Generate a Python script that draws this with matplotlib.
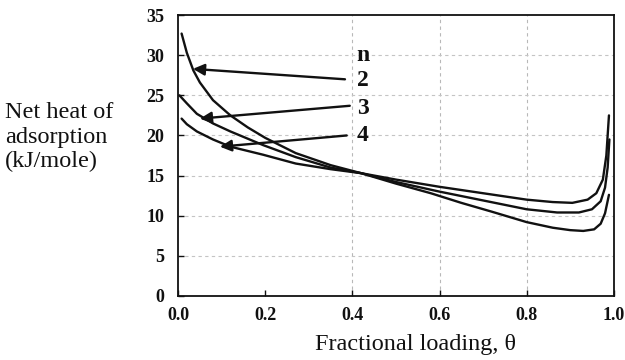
import numpy as np
import matplotlib.pyplot as plt

# Net heat of adsorption vs fractional loading, one curve per n
theta_n2 = [0.008, 0.02, 0.035, 0.05, 0.08, 0.12, 0.16, 0.20, 0.27, 0.35, 0.42,
            0.50, 0.58, 0.65, 0.72, 0.80, 0.86, 0.90, 0.93, 0.955, 0.97, 0.98, 0.989]
heat_n2 = [32.7, 30.3, 28.1, 26.6, 24.4, 22.5, 21.0, 19.7, 17.8, 16.3, 15.3,
           14.0, 12.8, 11.6, 10.5, 9.2, 8.5, 8.2, 8.1, 8.3, 9.0, 10.3, 12.6]

theta_n3 = [0.003, 0.02, 0.043, 0.08, 0.12, 0.195, 0.27, 0.35, 0.42,
            0.50, 0.60, 0.70, 0.80, 0.87, 0.92, 0.95, 0.97, 0.98, 0.986, 0.99]
heat_n3 = [25.0, 24.0, 22.7, 21.5, 20.5, 18.8, 17.3, 16.0, 15.3,
           14.2, 13.0, 11.9, 10.8, 10.4, 10.4, 10.8, 11.8, 13.5, 16.0, 19.5]

theta_n4 = [0.008, 0.02, 0.043, 0.08, 0.12, 0.195, 0.27, 0.35, 0.42,
            0.50, 0.60, 0.70, 0.80, 0.86, 0.905, 0.94, 0.96, 0.975, 0.983, 0.989]
heat_n4 = [22.1, 21.4, 20.5, 19.5, 18.6, 17.6, 16.5, 15.8, 15.3,
           14.5, 13.6, 12.8, 12.0, 11.7, 11.6, 12.0, 12.8, 14.5, 17.5, 22.5]

n_labels = ["2", "3", "4"]
x_ticks = [0.0, 0.2, 0.4, 0.6, 0.8, 1.0]
y_ticks = [0, 5, 10, 15, 20, 25, 30, 35]

serif = ["Liberation Serif", "DejaVu Serif"]
ink = "#111111"

fig = plt.figure(figsize=(6.25, 3.6), dpi=100)
ax = fig.add_axes([0.285, 0.178, 0.697, 0.780])

# faint dashed grid
for gx in [0.4, 0.6, 0.8]:
    ax.axvline(gx, color="#b8b8b8", lw=0.8, ls=(0, (3, 3)), zorder=0)
for gy in [5, 10, 15, 20, 25, 30]:
    ax.axhline(gy, color="#c4c4c4", lw=0.8, ls=(0, (3, 3)), zorder=0)

for th, q in [(theta_n2, heat_n2), (theta_n3, heat_n3), (theta_n4, heat_n4)]:
    ax.plot(th, q, color=ink, lw=1.7, solid_capstyle="round")

# labels and arrows pointing at each curve
ax.text(0.41, 30.0, "n", fontsize=17, fontweight="bold", family=serif,
        ha="left", va="center", color=ink)
tails = [(0.383, 27.0), (0.394, 23.7), (0.387, 20.0)]
heads = [(0.034, 28.3), (0.05, 22.1), (0.096, 18.6)]
label_y = [26.9, 23.4, 20.0]
for lab, tail, head, ly in zip(n_labels, tails, heads, label_y):
    ax.annotate("", xy=head, xytext=tail,
                arrowprops=dict(arrowstyle="-|>", color=ink, lw=1.7,
                                mutation_scale=17, shrinkA=0, shrinkB=0))
    ax.text(0.41, ly, lab, fontsize=17, fontweight="bold", family=serif,
            ha="left", va="center", color=ink)

ax.set_xlim(0, 1.0)
ax.set_ylim(0, 35)
ax.set_xticks(x_ticks)
ax.set_xticklabels([f"{v:.1f}" for v in x_ticks])
ax.set_yticks(y_ticks)
ax.tick_params(direction="in", length=4, width=1, colors=ink, labelsize=13)
ax.tick_params(axis="y", pad=10)
ax.tick_params(axis="x", pad=8)
for lbl in ax.get_xticklabels() + ax.get_yticklabels():
    lbl.set_family(serif)
    lbl.set_fontweight("semibold")
for sp in ax.spines.values():
    sp.set_linewidth(1.3)
    sp.set_color(ink)

fig.text(0.665, 0.042, "Fractional loading, \u03b8", fontsize=17.5,
         family=serif, ha="center", va="center", color=ink)
fig.text(0.008, 0.619, "Net heat of\nadsorption\n(kJ/mole)", fontsize=17.5,
         family=serif, ha="left", va="center", color=ink, linespacing=1.2)

fig.savefig("out.png", dpi=100)
